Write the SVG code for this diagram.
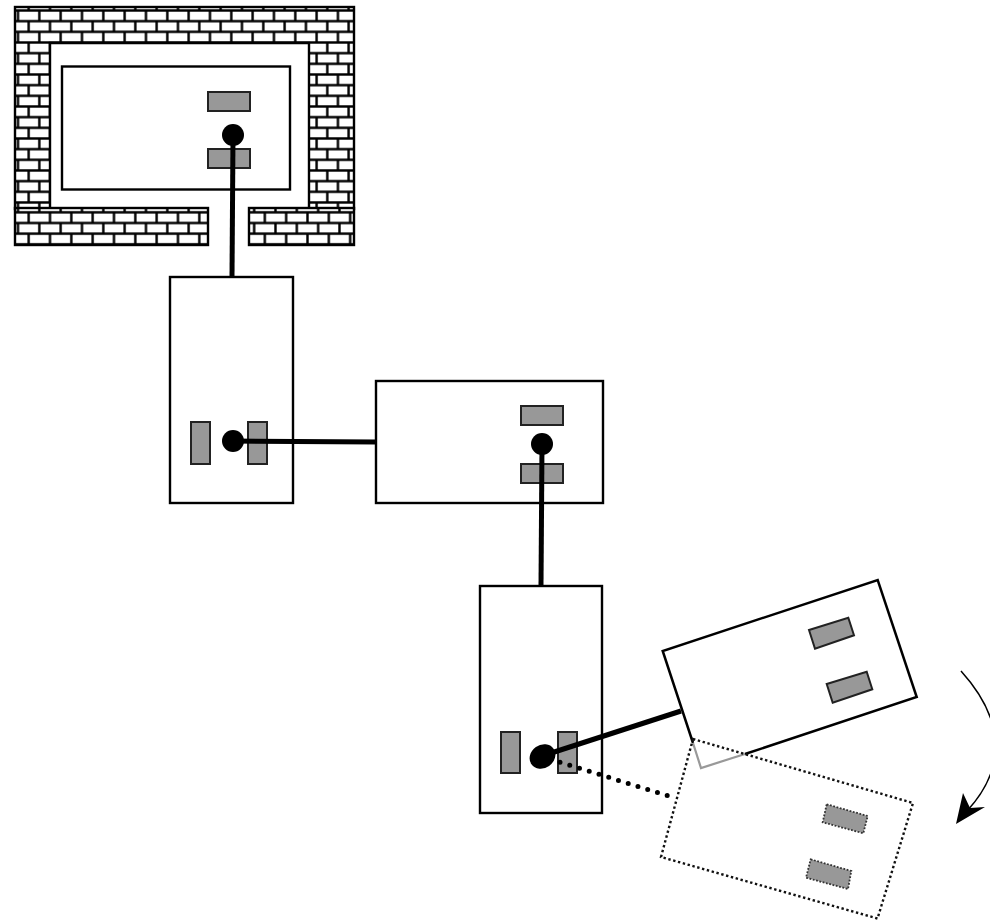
<svg xmlns="http://www.w3.org/2000/svg" width="990" height="920" viewBox="0 0 990 920">
<style>
.box{fill:#fff;stroke:#000;stroke-width:2.400}
.pad{fill:#989898;stroke:#222;stroke-width:2}
.padd{fill:#989898;stroke:#333;stroke-width:1.800;stroke-dasharray:1.800 1.600}
.arm{fill:none;stroke:#000;stroke-width:5}
.dot{fill:none;stroke:#111;stroke-width:2.400;stroke-dasharray:2.400 2.600}
.brick{stroke:#000;stroke-width:2.400}
</style>
<defs>
<g id="tile"><rect width="21.33" height="21.33" fill="#fff"/><path d="M0 5.33H21.33M0 16H21.33M5.33 5.33V16M16 16V21.33M16 0V5.33" fill="none" stroke="#000" stroke-width="2.400"/></g>
<pattern id="bt" patternUnits="userSpaceOnUse" x="12.67" y="5.17" width="21.33" height="21.33"><use href="#tile"/></pattern>
<pattern id="bl" patternUnits="userSpaceOnUse" x="12.67" y="196.34" width="21.33" height="21.33"><use href="#tile"/></pattern>
<pattern id="br" patternUnits="userSpaceOnUse" x="14.2" y="196.34" width="21.33" height="21.33"><use href="#tile"/></pattern>
</defs>
<rect width="990" height="920" fill="#fff"/>
<g id="wall">
<rect class="brick" x="15" y="7" width="339" height="202" fill="url(#bt)"/>
<rect x="50" y="43" width="259" height="166" fill="#fff"/>
<path d="M50 208V43H309V208" fill="none" stroke="#000" stroke-width="2.400"/>
<rect x="208" y="205" width="41" height="6" fill="#fff"/>
<rect class="brick" x="15" y="208" width="193" height="37" fill="url(#bl)"/>
<rect class="brick" x="249" y="208" width="105" height="37" fill="url(#br)"/>
</g>
<g id="node-1">
<rect class="box" x="62" y="66.500" width="228" height="123"/>
<rect class="pad" x="208" y="92" width="42" height="19"/>
<rect class="pad" x="208" y="149" width="42" height="19"/>
</g>
<g id="node-2">
<rect class="box" x="170" y="277" width="123" height="226"/>
<rect class="pad" x="191" y="422" width="19" height="42"/>
<rect class="pad" x="248" y="422" width="19" height="42"/>
</g>
<g id="node-3">
<rect class="box" x="376" y="381" width="227" height="122"/>
<rect class="pad" x="521" y="406" width="42" height="19"/>
<rect class="pad" x="521" y="464" width="42" height="19"/>
</g>
<g id="node-4">
<rect class="box" x="480" y="586" width="122" height="227"/>
<rect class="pad" x="501" y="732" width="19" height="41"/>
<rect class="pad" x="558" y="732" width="19" height="41"/>
</g>
<g id="node-5">
<path d="M693 742L662.700 651L877.700 580L916.700 697L745 754L701 768Z" fill="#fff" stroke="none"/>
<path d="M693 743L662.700 651L877.700 580L916.700 697L745 754" fill="none" stroke="#000" stroke-width="2.500"/>
<path d="M693 743L701 768L745 754" fill="none" stroke="#999" stroke-width="2.200"/>
<path class="pad" d="M809 630L848.300 617.700L854 635.300L815 648.700Z"/>
<path class="pad" d="M826.700 684L866.700 671.700L872.300 689.300L832.700 702.700Z"/>
</g>
<g id="node-6">
<path class="dot" d="M693 739L913 803L877.500 918.500L661 857Z"/>
<path class="padd" d="M826.700 804.300L867.700 816L863.300 833.300L822.700 822.300Z"/>
<path class="padd" d="M810.700 859.300L851.300 871L848 889L806 877.700Z"/>
</g>
<g id="connectors">
<line class="arm" x1="233" y1="135" x2="232" y2="277"/>
<line class="arm" x1="233" y1="441" x2="376" y2="442"/>
<line class="arm" x1="542" y1="444" x2="541" y2="586"/>
<line class="arm" x1="545" y1="755" x2="681" y2="711"/>
<line x1="560" y1="762.300" x2="668" y2="795.700" fill="none" stroke="#000" stroke-width="5" stroke-linecap="round" stroke-dasharray="0 10.200"/>
<circle cx="233" cy="135" r="11"/>
<circle cx="233" cy="441" r="11"/>
<circle cx="542" cy="444" r="11"/>
<ellipse cx="542.500" cy="756.500" rx="13.500" ry="11.500" transform="rotate(-35 542.500 756.500)"/>
<path d="M961 671C1007 722 1005 770 967 811" fill="none" stroke="#000" stroke-width="1.500"/>
<path d="M956 824L963 793L970 808L985 807Z"/>
</g>
</svg>
